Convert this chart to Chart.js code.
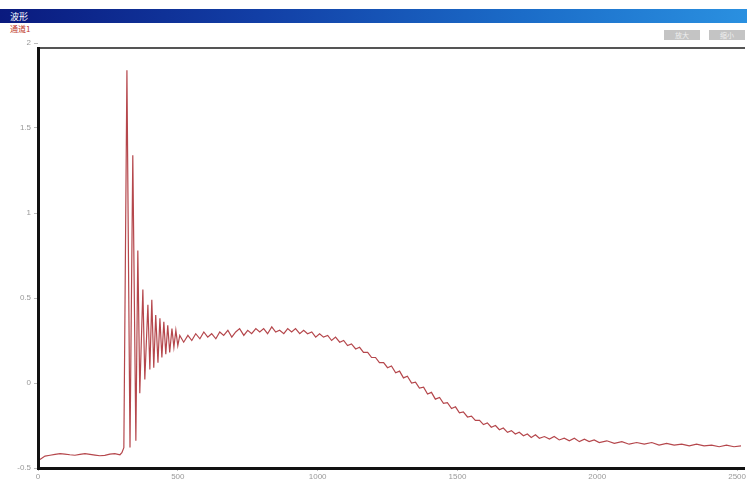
<!DOCTYPE html>
<html>
<head>
<meta charset="utf-8">
<script src="https://cdn.jsdelivr.net/npm/chart.js@4"></script>
<style>
  html, body { margin: 0; padding: 0; background: #fff; }
  body { width: 747px; height: 481px; position: relative; overflow: hidden; font-family: "Noto Sans CJK SC", "DejaVu Sans", sans-serif; }
  #titlebar { position: absolute; left: 0; top: 9px; width: 747px; height: 14px;
    background: linear-gradient(to right, #0a1a7e 0%, #123fa6 35%, #1b6cc8 70%, #2a90e0 100%); }
  #titlebar span { position: absolute; left: 10px; top: 1px; color: #fff; font-size: 9px; }
  #sub { position: absolute; left: 10px; top: 23px; color: #c0392b; font-size: 8px; }
  .btn { position: absolute; top: 30px; height: 10px; background: #c4c4c4; color: #eee; font-size: 7px; text-align: center; line-height: 10px; }
  #chart { position: absolute; left: 0; top: 0; }
</style>
</head>
<body>
<div id="titlebar"><span>波形</span></div>
<div id="sub">通道1</div>
<div class="btn" style="left:664px;width:36px;">放大</div>
<div class="btn" style="left:709px;width:36px;">缩小</div>
<canvas id="chart" width="747" height="481"></canvas>
<script>
// axis ticks
const xTickValues = [0, 500, 1000, 1500, 2000, 2500];
const yTickValues = [-0.5, 0, 0.5, 1, 1.5, 2];

// flat baseline before the hit
const baseTime = [7, 25, 43, 61, 79, 96, 114, 132, 150, 168, 186, 204, 221, 239, 257, 275, 293, 300];
const baseValues = [-0.45, -0.43, -0.425, -0.42, -0.415, -0.418, -0.422, -0.425, -0.42, -0.416,
  -0.42, -0.424, -0.428, -0.426, -0.418, -0.415, -0.422, -0.41];

// ringing right after the hit
const ringTime = [307, 318, 329, 339, 350, 357, 364, 375, 382, 393, 400, 407, 414, 421, 429, 436,
  443, 450, 457, 464, 471, 479, 486, 493, 500, 507];
const ringValues = [-0.38, 1.84, -0.38, 1.34, -0.34, 0.78, -0.06, 0.55, 0.02, 0.46, 0.08, 0.49, 0.09,
  0.40, 0.12, 0.38, 0.15, 0.36, 0.17, 0.34, 0.18, 0.32, 0.21, 0.31, 0.22, 0.28];

// plateau and slow decay
const tailTime = [
  521, 536, 550, 564, 579, 593, 607, 621, 636, 650,
  664, 679, 693, 707, 721, 736, 750, 764, 779, 793,
  807, 821, 836, 850, 864, 879, 893, 907, 921, 936,
  950, 964, 979, 993, 1007, 1021, 1036, 1050, 1064, 1079,
  1093, 1107, 1121, 1136, 1150, 1164, 1179, 1193, 1207, 1221,
  1236, 1250, 1264, 1279, 1293, 1307, 1321, 1336, 1350, 1364,
  1379, 1393, 1407, 1421, 1436, 1450, 1464, 1479, 1493, 1507,
  1521, 1536, 1550, 1564, 1579, 1593, 1607, 1621, 1636, 1650,
  1664, 1679, 1693, 1707, 1721, 1736, 1750, 1764, 1779, 1793,
  1811, 1829, 1846, 1864, 1882, 1900, 1918, 1936, 1954, 1971,
  1989, 2007, 2034, 2061, 2088, 2114, 2141, 2168, 2195, 2221,
  2248, 2275, 2302, 2329, 2355, 2382, 2409, 2436, 2462, 2489,
  2514
];
const tailValues = [
  0.24, 0.28, 0.25, 0.29, 0.26, 0.30, 0.27, 0.29, 0.26, 0.30,
  0.28, 0.31, 0.27, 0.30, 0.32, 0.28, 0.31, 0.29, 0.32, 0.30,
  0.32, 0.29, 0.33, 0.30, 0.31, 0.29, 0.32, 0.30, 0.32, 0.29,
  0.31, 0.29, 0.30, 0.27, 0.29, 0.27, 0.28, 0.25, 0.27, 0.24,
  0.25, 0.22, 0.23, 0.20, 0.21, 0.18, 0.18, 0.15, 0.15, 0.12,
  0.12, 0.09, 0.10, 0.06, 0.07, 0.03, 0.04, 0.00, 0.005, -0.03,
  -0.025, -0.065, -0.055, -0.095, -0.085, -0.12, -0.115, -0.15, -0.14, -0.175,
  -0.17, -0.2, -0.195, -0.22, -0.22, -0.245, -0.235, -0.26, -0.25, -0.275,
  -0.265, -0.29, -0.28, -0.30, -0.29, -0.31, -0.30, -0.32, -0.305, -0.325,
  -0.315, -0.33, -0.315, -0.335, -0.325, -0.34, -0.325, -0.345, -0.33, -0.345,
  -0.335, -0.35, -0.34, -0.355, -0.345, -0.36, -0.35, -0.36, -0.35, -0.365,
  -0.355, -0.365, -0.36, -0.37, -0.36, -0.37, -0.365, -0.375, -0.365, -0.375,
  -0.37
];

const timeValues = baseTime.concat(ringTime, tailTime);
const signalValues = baseValues.concat(ringValues, tailValues);
const points = timeValues.map((t, i) => ({ x: t, y: signalValues[i] }));

// frame round the plot: dark top, heavy black left and bottom
const framePlugin = {
  id: "frame",
  afterDatasetsDraw(chart) {
    const ctx = chart.ctx;
    ctx.save();
    ctx.strokeStyle = "#555";
    ctx.lineWidth = 2;
    ctx.beginPath();
    ctx.moveTo(38, 48);
    ctx.lineTo(745, 48);
    ctx.stroke();
    ctx.strokeStyle = "#111";
    ctx.lineWidth = 3;
    ctx.beginPath();
    ctx.moveTo(38.5, 47);
    ctx.lineTo(38.5, 468.5);
    ctx.lineTo(745, 468.5);
    ctx.stroke();
    ctx.restore();
  },
};

new Chart(document.getElementById("chart").getContext("2d"), {
  type: "line",
  data: {
    datasets: [
      {
        data: points,
        borderColor: "#b5474c",
        borderWidth: 1.2,
        pointRadius: 0,
        tension: 0,
        fill: false,
      },
    ],
  },
  options: {
    responsive: false,
    animation: false,
    devicePixelRatio: 1,
    layout: { padding: { top: 43, right: 2, left: 0, bottom: 0 } },
    plugins: { legend: { display: false }, tooltip: { enabled: false } },
    scales: {
      x: {
        type: "linear",
        min: 0,
        max: 2525,
        afterBuildTicks: (s) => { s.ticks = xTickValues.map((v) => ({ value: v })); },
        afterFit: (s) => { s.height = 13; },
        ticks: { color: "#999", font: { size: 8 }, padding: 1, maxRotation: 0, callback: (v) => String(v) },
        grid: { drawOnChartArea: false, tickLength: 3, color: "#bbb" },
        border: { display: false },
      },
      y: {
        min: -0.5,
        max: 2,
        afterBuildTicks: (s) => { s.ticks = yTickValues.map((v) => ({ value: v })); },
        afterFit: (s) => { s.width = 38; },
        ticks: { color: "#999", font: { size: 8 }, padding: 3, callback: (v) => String(v) },
        grid: { drawOnChartArea: false, tickLength: 4, color: "#bbb" },
        border: { display: false },
      },
    },
  },
  plugins: [framePlugin],
});
</script>
</body>
</html>
